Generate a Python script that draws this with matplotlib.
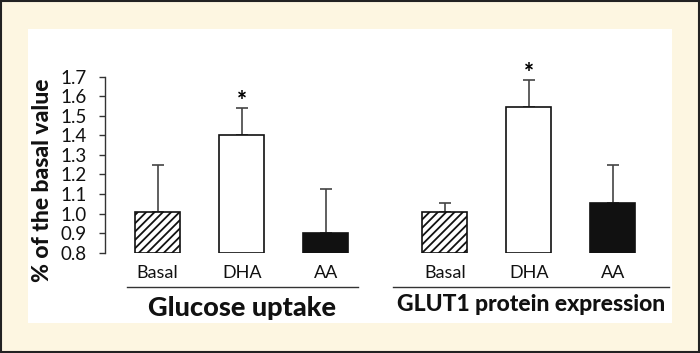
import matplotlib.pyplot as plt
from matplotlib.patches import Rectangle
from matplotlib.lines import Line2D
import matplotlib.transforms as mtransforms

plt.rcParams["font.family"] = ["Lato", "DejaVu Sans"]
plt.rcParams["hatch.linewidth"] = 1.3

# values
categories = ["Basal", "DHA", "AA"]
groups = ["Glucose uptake", "GLUT1 protein expression"]
glucose_vals = [1.006, 1.40, 0.90]
glucose_err = [0.245, 0.14, 0.225]
glut1_vals = [1.008, 1.545, 1.054]
glut1_err = [0.046, 0.138, 0.196]
significant = [False, True, False]

positions = [[0, 1, 2], [3.42, 4.42, 5.42]]
hatches = ["////", "", ""]
fills = ["white", "white", "#111111"]

W, H = 700, 353
fig = plt.figure(figsize=(W / 100, H / 100), dpi=100)
fig.patch.set_facecolor("#fdf6e1")

# white panel and outer border
fig.add_artist(Rectangle((28 / W, (H - 322.7) / H), (672 - 28) / W, (322.7 - 29.3) / H,
                         transform=fig.transFigure, facecolor="white", edgecolor="none", zorder=0))
fig.add_artist(Rectangle((0.001, 0.002), 0.998, 0.996, transform=fig.transFigure,
                         facecolor="none", edgecolor="#222222", linewidth=1.5, zorder=5))

ax = fig.add_axes([105 / W, 100.3 / H, 575 / W, 176 / H])
ax.set_facecolor("none")
ax.set_xlim(-0.627, 6.218)
ax.set_ylim(0.8, 1.7)

for pos, vals, errs in zip(positions, [glucose_vals, glut1_vals], [glucose_err, glut1_err]):
    for x, v, e, h, fc, sig in zip(pos, vals, errs, hatches, fills, significant):
        ax.errorbar(x, v, yerr=[[0], [e]], fmt="none", ecolor="#444444",
                    elinewidth=1.2, capsize=4.5, capthick=1.2, zorder=1)
        ax.bar(x, v - 0.8, bottom=0.8, width=0.536, facecolor=fc, edgecolor="#111111",
               linewidth=1.2, hatch=h, zorder=2)
        if sig:
            ax.text(x, v + e - 0.005, "*", ha="center", va="baseline", fontsize=17,
                    fontweight=900, clip_on=False)

ax.set_yticks([0.8 + 0.1 * i for i in range(10)])
ax.set_yticklabels([f"{0.8 + 0.1 * i:.1f}" for i in range(10)])
ax.tick_params(axis="y", direction="out", length=4, width=1, color="#333333",
               labelsize=13.5, pad=9, labelcolor="#111111")
ax.set_xticks(positions[0] + positions[1])
ax.set_xticklabels(categories * 2)
ax.tick_params(axis="x", length=0, labelsize=13, pad=9, labelcolor="#111111")

for s in ["top", "right", "bottom"]:
    ax.spines[s].set_visible(False)
ax.spines["left"].set_color("#333333")
ax.spines["left"].set_linewidth(1)

trans = mtransforms.blended_transform_factory(ax.transData, ax.transAxes)
for (x0, x1) in [(-0.369, 2.385), (2.798, 6.087)]:
    ax.add_line(Line2D([x0, x1], [-0.197, -0.197], transform=trans, color="#333333",
                       linewidth=1, clip_on=False))

ax.text(1.0, -0.314, groups[0], transform=trans, ha="center", va="center",
        fontsize=19.5, fontweight=900, color="#111111")
ax.text(4.44, -0.297, groups[1], transform=trans, ha="center", va="center",
        fontsize=16.5, fontweight=900, color="#111111")

fig.text(43 / W, (H - 180) / H, "% of the basal value", rotation=90, ha="center",
         va="center", fontsize=16.5, fontweight=900, color="#111111")

fig.savefig("out.png", dpi=100, facecolor=fig.get_facecolor())
